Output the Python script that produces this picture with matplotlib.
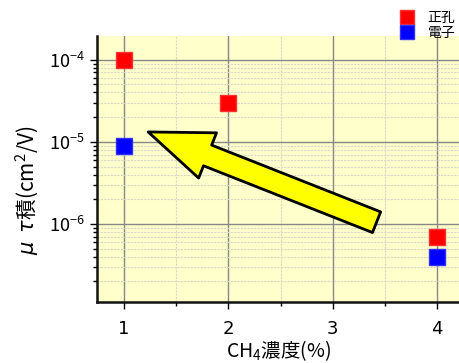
import matplotlib
matplotlib.use("Agg")
import matplotlib.pyplot as plt
from matplotlib.ticker import LogLocator, MultipleLocator, NullFormatter

plt.rcParams['font.family'] = ['Noto Sans CJK JP', 'DejaVu Sans']
plt.rcParams['mathtext.fontset'] = 'custom'
plt.rcParams['mathtext.rm'] = 'Noto Sans CJK JP'
plt.rcParams['mathtext.it'] = 'DejaVu Sans:italic'

# data
ch4 = [1, 2, 4]
hole = [1.0e-4, 3.0e-5, 7.0e-7]
ch4_e = [1, 4]
electron = [9.0e-6, 4.0e-7]
series_names = ["正孔", "電子"]
arrow_tail = (3.42, 1.05e-6)
arrow_tip = (1.23, 1.32e-5)

fig = plt.figure(figsize=(4.6, 3.63), dpi=100)
ax = fig.add_axes([0.211, 0.168, 0.789, 0.733])
ax.set_facecolor("#ffffcc")

ax.plot(ch4, hole, "s", color="#ff0000", ms=11.5, mec="#ff3030", ls="none", label=series_names[0], zorder=4)
ax.plot(ch4_e, electron, "s", color="#0000ff", ms=11.5, mec="#3030ff", ls="none", label=series_names[1], zorder=4)

ax.annotate("", xy=arrow_tip, xytext=arrow_tail,
            arrowprops=dict(arrowstyle="simple,head_width=35,head_length=46,tail_width=16",
                            mutation_scale=1, fc="#ffff00", ec="black", lw=2,
                            shrinkA=0, shrinkB=0), zorder=5)

ax.set_yscale("log")
ax.set_xlim(0.74, 4.22)
ax.set_ylim(1.12e-7, 1.95e-4)
ax.xaxis.set_major_locator(MultipleLocator(1))
ax.xaxis.set_minor_locator(MultipleLocator(0.5))
ax.yaxis.set_major_locator(LogLocator(base=10, numticks=10))
ax.yaxis.set_minor_locator(LogLocator(base=10, subs=range(2, 10), numticks=10))
ax.yaxis.set_minor_formatter(NullFormatter())

ax.grid(which="major", color="#888888", lw=1, ls="-")
ax.grid(which="minor", color="#d8d8c8", lw=0.8, ls=(0, (2, 1)))
ax.set_axisbelow(True)

for s in ["top", "right"]:
    ax.spines[s].set_visible(False)
for s in ["left", "bottom"]:
    ax.spines[s].set_linewidth(1.8)
    ax.spines[s].set_color("#111111")

ax.tick_params(which="major", length=5, width=1, labelsize=13, direction="out")
ax.tick_params(which="minor", length=3, width=1, direction="out")
ax.tick_params(axis="x", pad=8)
ax.tick_params(axis="y", pad=4)
for lab in ax.get_xticklabels():
    lab.set_fontfamily("DejaVu Sans")

ax.set_xlabel("CH$_4$濃度(%)", fontsize=14)
ax.xaxis.set_label_coords(0.5, -0.135)
ax.set_ylabel("$\\mu$  $\\tau$積(cm$^{2}$/V)", fontsize=15, labelpad=12)
ax.yaxis.set_label_coords(-0.155, 0.42)

fig.legend(loc="upper right", bbox_to_anchor=(1.017, 1.004), frameon=False,
           fontsize=10, handletextpad=0.9, labelspacing=0.05, markerscale=0.85,
           handlelength=1.2)

fig.savefig("out.png", dpi=100)
